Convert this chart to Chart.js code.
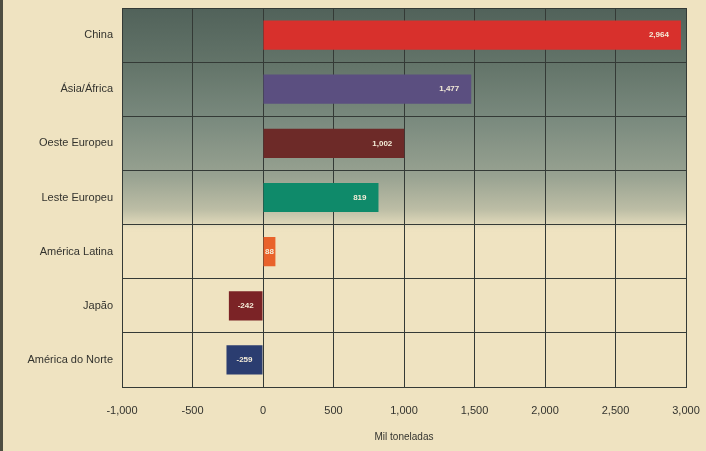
<!DOCTYPE html>
<html lang="pt">
<head>
<meta charset="utf-8">
<title>Mil toneladas por região</title>
<script src="https://cdn.jsdelivr.net/npm/chart.js@4"></script>
<style>
  html, body { margin: 0; padding: 0; background: #efe3c1; }
  #wrap { width: 706px; height: 451px; position: relative; border-left: 3px solid #4e4e42; box-sizing: border-box; }
  canvas { display: block; }
</style>
</head>
<body>
<div id="wrap"><canvas id="chart" width="703" height="451"></canvas></div>
<script>
// ─── Data ─────────────────────────────────────────────
const regions = ['China', 'Ásia/África', 'Oeste Europeu', 'Leste Europeu', 'América Latina', 'Japão', 'América do Norte'];
const values  = [2964, 1477, 1002, 819, 88, -242, -259];
const barColors = ['#d8302c', '#5b4f80', '#6d2a28', '#0f8a6a', '#e9622b', '#7b2326', '#2b3d70'];
const axisMin = -1000;
const axisMax = 3000;
const axisStep = 500;
const axisTitle = 'Mil toneladas';

const fmt = n => n.toLocaleString('en-US');
const FONT = '"Liberation Sans", Arial, sans-serif';

// ─── Plot background: grey-green fading into the paper ─
const plotBackground = {
  id: 'plotBackground',
  beforeDraw(chart) {
    const { ctx, chartArea: a } = chart;
    const h = (a.bottom - a.top) * 0.59;
    const g = ctx.createLinearGradient(0, a.top, 0, a.top + h);
    g.addColorStop(0, '#51625a');
    g.addColorStop(0.25, '#637469');
    g.addColorStop(0.5, '#7a8a7e');
    g.addColorStop(0.75, '#98a291');
    g.addColorStop(0.9, '#bcbda5');
    g.addColorStop(0.97, '#e0d9ba');
    g.addColorStop(1, 'rgba(239,227,193,0)');
    ctx.save();
    ctx.fillStyle = g;
    ctx.fillRect(a.left, a.top, a.right - a.left, h);
    ctx.restore();
  }
};

// ─── Value labels inside the bars ──────────────────────
const barLabels = {
  id: 'barLabels',
  afterDatasetsDraw(chart) {
    const { ctx } = chart;
    const meta = chart.getDatasetMeta(0);
    ctx.save();
    ctx.font = 'bold 8px ' + FONT;
    ctx.fillStyle = '#f4ecd8';
    ctx.textBaseline = 'middle';
    meta.data.forEach((bar, i) => {
      const w = Math.abs(bar.x - bar.base);
      const txt = fmt(values[i]);
      if (w > 60) {
        ctx.textAlign = 'right';
        ctx.fillText(txt, bar.x - 12, bar.y);
      } else {
        ctx.textAlign = 'center';
        ctx.fillText(txt, (bar.x + bar.base) / 2, bar.y);
      }
    });
    ctx.restore();
  }
};

new Chart(document.getElementById('chart'), {
  type: 'bar',
  data: {
    labels: regions,
    datasets: [{
      data: values,
      backgroundColor: barColors,
      borderWidth: 0,
      barPercentage: 0.54,
      categoryPercentage: 1
    }]
  },
  options: {
    indexAxis: 'y',
    responsive: false,
    animation: false,
    layout: { padding: { top: 8, right: 20, left: 0, bottom: 0 } },
    plugins: { legend: { display: false }, tooltip: { enabled: false } },
    scales: {
      x: {
        min: axisMin,
        max: axisMax,
        ticks: {
          stepSize: axisStep,
          color: '#33332e',
          font: { family: FONT, size: 11 },
          padding: 17,
          callback: v => fmt(v)
        },
        grid: { color: '#343a36', lineWidth: 1, drawTicks: false },
        border: { color: '#343a36' },
        title: {
          display: true,
          text: axisTitle,
          color: '#33332e',
          font: { family: FONT, size: 10 },
          padding: { top: 4, bottom: 8 }
        },
        afterFit(scale) {
          scale.height = 64;
          scale.paddingLeft = 0;
          scale.paddingRight = 0;
        }
      },
      y: {
        ticks: {
          color: '#33332e',
          font: { family: FONT, size: 11 },
          padding: 9
        },
        grid: { color: '#343a36', lineWidth: 1, offset: true, drawTicks: false },
        border: { color: '#343a36' },
        afterFit(scale) {
          scale.width = 119;
          scale.paddingTop = 0;
          scale.paddingBottom = 0;
        }
      }
    }
  },
  plugins: [plotBackground, barLabels]
});
</script>
</body>
</html>
